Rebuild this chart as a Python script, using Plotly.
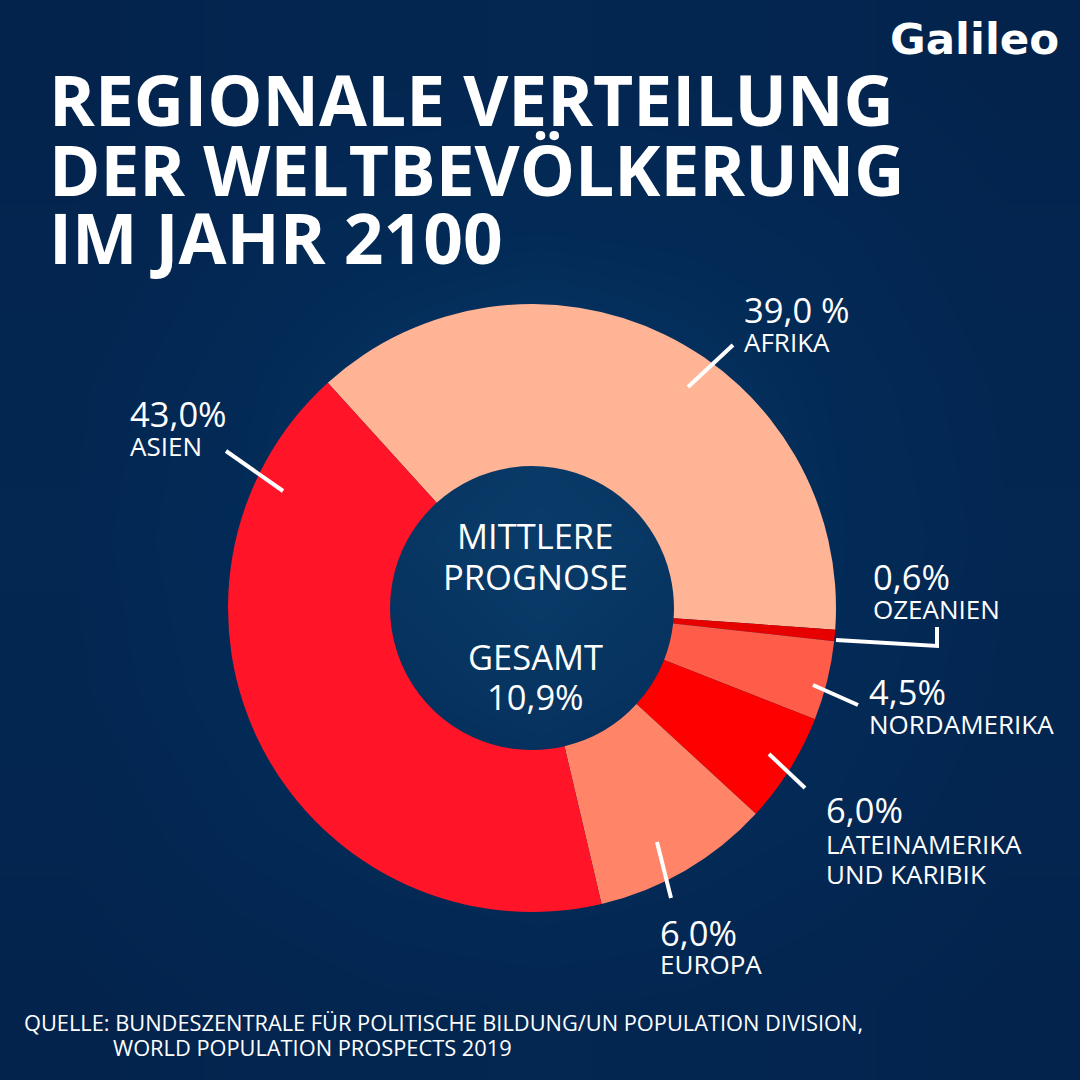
import plotly.graph_objects as go

FONT = "Open Sans"
W = H = 1080

# slice shares as drawn in the picture (clockwise from Afrika)
regions = ["Afrika", "Ozeanien", "Nordamerika", "Lateinamerika und Karibik", "Europa", "Asien"]
drawn_shares = [37.86, 0.6, 4.23, 5.86, 9.5, 41.95]
printed_values = ["39,0 %", "0,6%", "4,5%", "6,0%", "6,0%", "43,0%"]
slice_colors = ["#FFB496", "#E60000", "#FF5C4A", "#FF0000", "#FF8468", "#FF1428"]

title_lines = ["REGIONALE VERTEILUNG", "DER WELTBEVÖLKERUNG", "IM JAHR 2100"]
center_lines = ["MITTLERE", "PROGNOSE", "GESAMT", "10,9%"]
source_lines = ["QUELLE: BUNDESZENTRALE FÜR POLITISCHE BILDUNG/UN POPULATION DIVISION,",
                "WORLD POPULATION PROSPECTS 2019"]

# background brightness
bg_levels = [
    [0.00, 0.08, 0.14, 0.16, 0.14, 0.08, 0.00],
    [0.08, 0.20, 0.28, 0.32, 0.28, 0.20, 0.08],
    [0.14, 0.28, 0.55, 0.75, 0.55, 0.28, 0.14],
    [0.16, 0.32, 0.75, 1.00, 0.75, 0.32, 0.16],
    [0.14, 0.28, 0.55, 0.75, 0.55, 0.28, 0.14],
    [0.08, 0.20, 0.28, 0.32, 0.28, 0.20, 0.08],
    [0.00, 0.08, 0.14, 0.16, 0.14, 0.08, 0.00],
]


def px(x):
    return x / W


def py(y):
    return 1 - y / H


fig = go.Figure()

fig.add_trace(go.Heatmap(
    z=bg_levels, zsmooth="best", showscale=False, hoverinfo="skip", zmin=0, zmax=1,
    colorscale=[[0, "#03234C"], [0.35, "#032B58"], [1, "#0A3C69"]],
))

fig.add_trace(go.Pie(
    labels=regions, values=drawn_shares, sort=False, direction="clockwise", rotation=317.8,
    hole=0.467, textinfo="none", hoverinfo="skip", showlegend=False,
    marker=dict(colors=slice_colors, line=dict(width=0)),
    domain=dict(x=[px(228), px(836)], y=[py(912), py(304)]),
))


def note(text, x, y, size, anchor="left", bold=False, family=FONT):
    fig.add_annotation(
        text=f"<b>{text}</b>" if bold else text,
        x=px(x), y=py(y), xref="paper", yref="paper",
        xanchor=anchor, yanchor="middle", showarrow=False,
        font=dict(family=family, size=size, color="white"),
    )


for line, y in zip(title_lines, [99, 169, 237]):
    note(line, 47, y, 69.5, bold=True)

note("Galileo", 974, 39, 43.5, anchor="center", bold=True, family="DejaVu Sans")

for line, y in zip(center_lines, [536, 576, 656, 696]):
    note(line, 535, y, 34.5, anchor="center")

value_pos = [(742, 310), (871, 576), (867, 691), (824, 809), (658, 932), (128, 413)]
for text, (x, y) in zip(printed_values, value_pos):
    note(text, x, y, 34.5)

name_lines = ["AFRIKA", "OZEANIEN", "NORDAMERIKA", "LATEINAMERIKA", "UND KARIBIK", "EUROPA", "ASIEN"]
name_pos = [(742, 342), (871, 609), (867, 724), (824, 844), (824, 874), (658, 964), (128, 446)]
for text, (x, y) in zip(name_lines, name_pos):
    note(text, x, y, 26)

note(source_lines[0], 22, 1022, 21.8)
note(source_lines[1], 111, 1047, 21.8)

leaders = [
    [(688, 387), (733, 345)],
    [(226, 451), (283, 491)],
    [(836, 640), (937, 646), (937, 627)],
    [(813, 685), (858, 705)],
    [(769, 754), (805, 788)],
    [(657, 842), (671, 898)],
]
for pts in leaders:
    path = "M " + " L ".join(f"{px(x):.5f} {py(y):.5f}" for x, y in pts)
    fig.add_shape(type="path", path=path, xref="paper", yref="paper",
                  line=dict(color="white", width=4))

fig.update_layout(
    width=W, height=H, margin=dict(l=0, r=0, t=0, b=0),
    paper_bgcolor="#03264F", plot_bgcolor="#03264F", showlegend=False,
    xaxis=dict(visible=False, domain=[0, 1]),
    yaxis=dict(visible=False, domain=[0, 1]),
)

fig.write_html("out.html", config={"displayModeBar": False},
               post_script="document.body.style.margin='0';")
